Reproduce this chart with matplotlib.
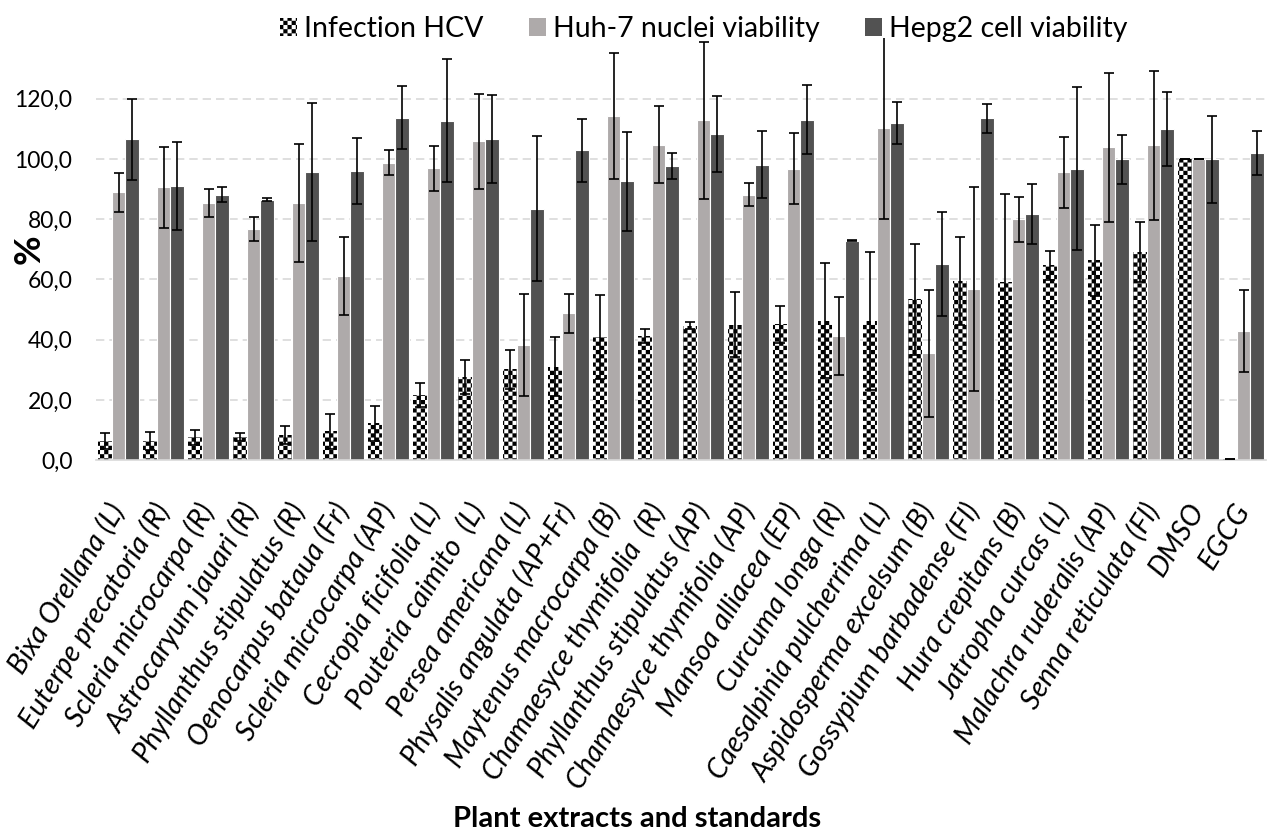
import numpy as np
import matplotlib
matplotlib.use("Agg")
import matplotlib.pyplot as plt
import matplotlib.hatch as mhatch
from matplotlib.path import Path
from matplotlib.patches import Patch

categories = ["Bixa Orellana (L)", "Euterpe precatoria (R)", "Scleria microcarpa (R)",
              "Astrocaryum jauari (R)", "Phyllanthus stipulatus (R)", "Oenocarpus bataua (Fr)",
              "Scleria microcarpa (AP)", "Cecropia ficifolia (L)", "Pouteria caimito  (L)",
              "Persea americana (L)", "Physalis angulata (AP+Fr)", "Maytenus macrocarpa (B)",
              "Chamaesyce thymifolia  (R)", "Phyllanthus stipulatus (AP)", "Chamaesyce thymifolia (AP)",
              "Mansoa alliacea (EP)", "Curcuma longa (R)", "Caesalpinia pulcherrima (L)",
              "Aspidosperma excelsum (B)", "Gossypium barbadense (Fl)", "Hura crepitans (B)",
              "Jatropha curcas (L)", "Malachra ruderalis (AP)", "Senna reticulata (Fl)",
              "DMSO", "EGCG"]

hcv = [6.3, 6.3, 7.5, 7.6, 8.4, 9.5, 12.2, 21.5, 27.5, 30.2, 31.0, 40.9, 41.3, 44.6, 44.9,
       45.1, 46.2, 46.2, 53.4, 59.4, 59.2, 64.7, 66.3, 69.2, 100.0, 0.3]
hcv_err = [2.6, 2.9, 2.5, 1.3, 2.9, 5.9, 5.9, 4.0, 5.6, 6.5, 9.8, 14.0, 2.3, 1.2, 10.8,
           6.2, 19.1, 22.9, 18.5, 14.7, 29.3, 4.8, 11.8, 10.0, 0.0, 0.0]
huh = [88.9, 90.6, 85.3, 76.7, 85.5, 61.2, 98.7, 96.9, 105.8, 38.2, 48.7, 114.3, 104.7, 112.8,
       88.1, 96.8, 41.1, 110.4, 35.4, 56.8, 80.0, 95.5, 103.8, 104.5, 100.0, 43.0]
huh_err = [6.5, 13.5, 4.6, 4.0, 19.6, 13.0, 4.2, 7.4, 15.8, 17.0, 6.4, 21.0, 12.7, 26.0,
           3.8, 11.8, 13.0, 30.5, 21.0, 34.0, 7.5, 11.8, 24.6, 24.7, 0.0, 13.6]
hep = [106.5, 91.0, 88.1, 86.4, 95.7, 96.1, 113.7, 112.7, 106.6, 83.5, 102.9, 92.5, 97.7, 108.2,
       98.1, 113.0, 72.9, 111.8, 65.0, 113.5, 81.6, 96.8, 99.8, 109.9, 99.8, 101.9]
hep_err = [13.5, 14.5, 2.5, 0.5, 23.0, 11.0, 10.5, 20.5, 14.7, 24.0, 10.5, 16.3, 4.3, 12.6,
           11.0, 11.5, 0.3, 7.0, 17.3, 4.8, 10.0, 27.0, 8.1, 12.2, 14.3, 7.3]

series_names = ["Infection HCV", "Huh-7 nuclei viability", "Hepg2 cell viability"]
yticks = [0, 20, 40, 60, 80, 100, 120]


# checkerboard hatch (replaces the '*' star hatch)
class CheckerHatch(mhatch.HatchPatternBase):
    def __init__(self, hatch, density):
        self.n = int(hatch.count('*') * density)
        if self.n % 2:
            self.n += 1
        self.num_vertices = (self.n * self.n // 2) * 5 if self.n else 0

    def set_vertices_and_codes(self, vertices, codes):
        n = self.n
        s = 1.0 / n
        k = 0
        for i in range(n):
            for j in range(n):
                if (i + j) % 2 == 0:
                    x0, y0 = i * s, j * s
                    vertices[k:k + 5] = [(x0, y0), (x0 + s, y0), (x0 + s, y0 + s),
                                         (x0, y0 + s), (x0, y0)]
                    codes[k] = Path.MOVETO
                    codes[k + 1:k + 4] = Path.LINETO
                    codes[k + 4] = Path.CLOSEPOLY
                    k += 5


mhatch._hatch_types = [CheckerHatch]
plt.rcParams['hatch.linewidth'] = 0.05
plt.rcParams['font.family'] = ['Lato', 'DejaVu Sans']

fig = plt.figure(figsize=(12.75, 8.35), dpi=100)
ax = fig.add_axes([0.0753, 0.449, 0.9177, 0.505])

x = np.arange(len(categories))
w = 0.3
light = '#AEAAAA'
dark = '#525252'
ekw = dict(ecolor='black', elinewidth=1.2, capsize=3.6, capthick=1.2)

ax.bar(x - w, hcv, w, facecolor='white', hatch='****', linewidth=0, zorder=2)
ax.bar(x, huh, w, color=light, edgecolor='white', linewidth=0.8, zorder=2)
ax.bar(x + w, hep, w, color=dark, edgecolor='white', linewidth=0.8, zorder=2)
ax.errorbar(x - w, hcv, yerr=hcv_err, fmt='none', zorder=3, **ekw)
ax.errorbar(x, huh, yerr=huh_err, fmt='none', zorder=3, **ekw)
ax.errorbar(x + w, hep, yerr=hep_err, fmt='none', zorder=3, **ekw)

ax.set_xlim(-0.5, len(categories) - 0.5)
ax.set_ylim(0, 140)
ax.set_yticks(yticks)
ax.set_yticklabels([f"{v:.1f}".replace('.', ',') for v in yticks], fontsize=16.5)
ax.yaxis.grid(True, color='#D9D9D9', linestyle=(0, (5, 3)), linewidth=1.2, zorder=0)
ax.set_axisbelow(True)
for s in ['top', 'right', 'left']:
    ax.spines[s].set_visible(False)
ax.spines['bottom'].set_color('#D9D9D9')
ax.spines['bottom'].set_linewidth(1.2)
ax.tick_params(axis='both', length=0)
ax.tick_params(axis='y', pad=17)

ax.set_xticks(x)
ax.set_xticklabels(categories, rotation=58, ha='right', va='center',
                   rotation_mode='anchor', fontsize=20.5, style='italic')
ax.tick_params(axis='x', pad=33)

ax.set_ylabel('%', fontsize=26, fontweight='bold')
ax.yaxis.set_label_coords(-0.043, 0.5)
fig.text(0.5, 0.004, 'Plant extracts and standards', ha='center', va='bottom',
         fontsize=21, fontweight='bold')

handles = [Patch(facecolor='white', hatch='****', linewidth=0),
           Patch(facecolor=light), Patch(facecolor=dark)]
fig.legend(handles, series_names, loc='upper center', bbox_to_anchor=(0.552, 1.012),
           ncol=3, frameon=False, fontsize=20.5, handlelength=0.6, handleheight=0.6,
           handletextpad=0.25, columnspacing=1.6)

fig.savefig('out.png', dpi=100)
